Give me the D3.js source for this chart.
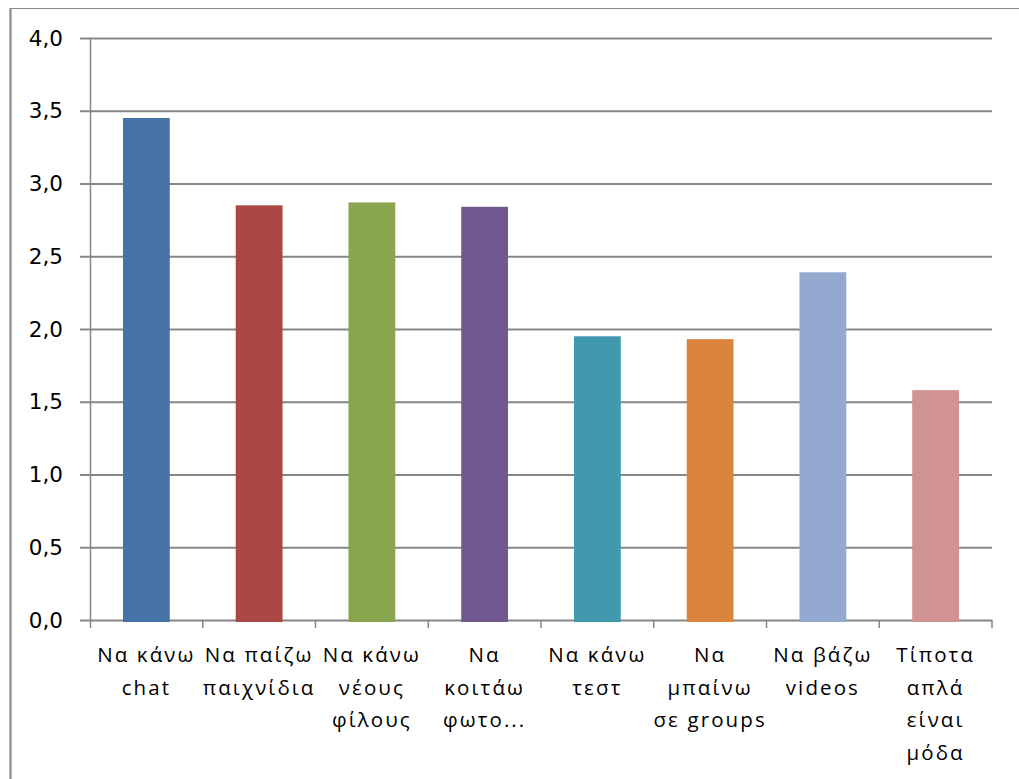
<!DOCTYPE html>
<html>
<head>
<meta charset="utf-8">
<script src="https://cdn.jsdelivr.net/npm/d3@7"></script>
<style>
  html, body { margin: 0; padding: 0; background: #fff; }
  svg { display: block; }
</style>
</head>
<body>
<svg id="chart" width="1019" height="779"></svg>
<script>
// Category labels, split into the lines they wrap to
const categories = [
  ["Να κάνω", "chat"],
  ["Να παίζω", "παιχνίδια"],
  ["Να κάνω", "νέους", "φίλους"],
  ["Να", "κοιτάω", "φωτο..."],
  ["Να κάνω", "τεστ"],
  ["Να", "μπαίνω", "σε groups"],
  ["Να βάζω", "videos"],
  ["Τίποτα", "απλά", "είναι", "μόδα"]
];
const values = [3.45, 2.85, 2.87, 2.84, 1.95, 1.93, 2.39, 1.58];
const colors = ["#4572A7", "#AA4643", "#89A54E", "#71588F", "#4198AF", "#DB843D", "#93A9CF", "#D19392"];
const yTicks = [0, 0.5, 1, 1.5, 2, 2.5, 3, 3.5, 4];

const svg = d3.select("#chart");
const margin = { left: 90, right: 1019 - 992, top: 38, bottom: 779 - 620 };
const W = 1019, H = 779;

// Chart frame (top and left edges)
svg.append("line").attr("x1", 10).attr("x2", W).attr("y1", 8.5).attr("y2", 8.5)
  .attr("stroke", "#8a8a8a").attr("stroke-width", 1.2);
svg.append("line").attr("x1", 10.5).attr("x2", 10.5).attr("y1", 8).attr("y2", H)
  .attr("stroke", "#8a8a8a").attr("stroke-width", 2.2);

const x = d3.scaleBand()
  .domain(d3.range(categories.length))
  .range([margin.left, W - margin.right])
  .paddingInner(0.585).paddingOuter(0.2925);

const y = d3.scaleLinear().domain([0, 4]).range([H - margin.bottom, margin.top]);

const fmt = v => d3.format(".1f")(v).replace(".", ",");

// Horizontal gridlines with left tick marks
svg.append("g")
  .attr("transform", `translate(${margin.left},0)`)
  .call(d3.axisLeft(y).tickValues(yTicks).tickSize(-(W - margin.right - margin.left)).tickFormat(""))
  .call(g => g.select(".domain").remove())
  .call(g => g.selectAll(".tick line").attr("stroke", "#868686").attr("stroke-width", 2)
    .attr("x1", -10));

// Y tick labels
svg.append("g").selectAll("text")
  .data(yTicks).join("text")
  .attr("x", 63).attr("y", d => y(d))
  .attr("dy", "0.36em")
  .attr("text-anchor", "end")
  .attr("font-family", "DejaVu Sans, Verdana, sans-serif")
  .attr("font-size", 21.5)
  .attr("fill", "#000")
  .text(fmt);

// Vertical value axis line
svg.append("line")
  .attr("x1", margin.left + 0.5).attr("x2", margin.left + 0.5)
  .attr("y1", y(4)).attr("y2", y(0) + 8)
  .attr("stroke", "#868686").attr("stroke-width", 1.5);

// Category tick marks at band boundaries
const bounds = d3.range(categories.length + 1).map(i => margin.left + i * x.step());
svg.append("g").selectAll("line")
  .data(bounds.slice(1)).join("line")
  .attr("x1", d => d).attr("x2", d => d)
  .attr("y1", y(0)).attr("y2", y(0) + 8)
  .attr("stroke", "#868686").attr("stroke-width", 1.5);

// Bars
svg.append("g").selectAll("rect")
  .data(values).join("rect")
  .attr("x", (d, i) => x(i))
  .attr("width", x.bandwidth())
  .attr("y", d => y(d))
  .attr("height", d => y(0) - y(d) + 2)
  .attr("fill", (d, i) => colors[i]);

// Category labels
const lab = svg.append("g").selectAll("text")
  .data(categories).join("text")
  .attr("x", (d, i) => x(i) + x.bandwidth() / 2)
  .attr("y", 662)
  .attr("text-anchor", "middle")
  .attr("font-family", "Open Sans, sans-serif")
  .attr("font-size", 20.5)
  .attr("letter-spacing", 2.1)
  .attr("fill", "#000");
lab.selectAll("tspan")
  .data(d => d).join("tspan")
  .attr("x", function () { return this.parentNode.getAttribute("x"); })
  .attr("dy", (d, i) => i === 0 ? 0 : 32.6)
  .text(d => d);
</script>
</body>
</html>
